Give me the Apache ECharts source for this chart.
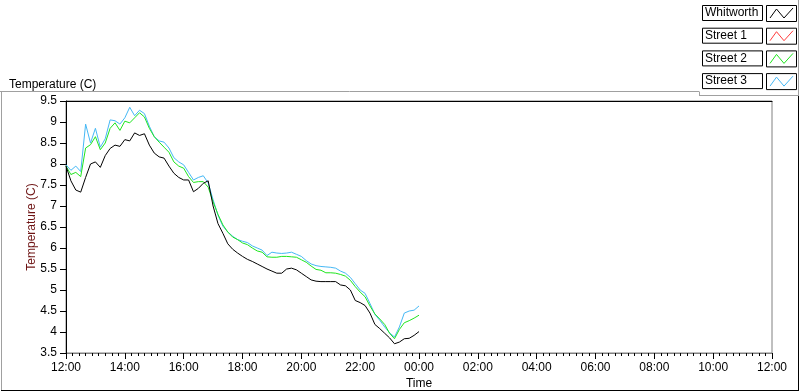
<!DOCTYPE html>
<html>
<head>
<meta charset="utf-8">
<script src="https://cdn.jsdelivr.net/npm/echarts@6/dist/echarts.min.js"></script>
<style>
  html, body { margin: 0; padding: 0; background: #fff; }
  #chart { width: 800px; height: 392px; }
</style>
</head>
<body>
<div id="chart"></div>
<script>
// Samples every 10 minutes starting at 12:00
const startHour = 12;
const stepMinutes = 10;

const seriesNames = ['Whitworth', 'Street 1', 'Street 2', 'Street 3'];
const seriesColors = ['#000000', '#ff3c3c', '#1ee61e', '#45b8f5'];

const whitworth = [
    7.95, 7.6, 7.38, 7.33, 7.68, 8.0, 8.05, 7.92, 8.2, 8.37, 8.45, 8.42,
    8.58, 8.55, 8.74, 8.68, 8.72, 8.45, 8.26, 8.17, 8.14, 7.95, 7.78, 7.68,
    7.62, 7.62, 7.34, 7.42, 7.54, 7.6, 7.0, 6.58, 6.35, 6.1, 5.97, 5.88,
    5.8, 5.73, 5.68, 5.62, 5.56, 5.5, 5.45, 5.4, 5.4, 5.5, 5.52, 5.48,
    5.4, 5.32, 5.24, 5.21, 5.2, 5.2, 5.2, 5.2, 5.12, 5.1, 5.0, 4.75,
    4.7, 4.63, 4.45, 4.18, 4.08, 3.97, 3.86, 3.72, 3.76, 3.84, 3.85, 3.92,
    4.01
];
const street1 = [];
const street2 = [
    7.95, 7.75, 7.8, 7.7, 8.38, 8.46, 8.65, 8.34, 8.5, 8.85, 8.98, 8.8,
    9.02, 8.98, 9.1, 9.22, 9.12, 8.85, 8.65, 8.52, 8.4, 8.28, 8.05, 7.95,
    7.9, 7.7, 7.56, 7.58, 7.58, 7.45, 7.1, 6.8, 6.55, 6.38, 6.26, 6.2,
    6.12, 6.08, 6.0, 5.93, 5.9, 5.79, 5.78, 5.78, 5.8, 5.8, 5.79, 5.78,
    5.72, 5.66, 5.57, 5.49, 5.47, 5.41, 5.41, 5.4, 5.37, 5.33, 5.23, 5.08,
    4.95, 4.84, 4.62, 4.43, 4.31, 4.18, 3.97, 3.84, 4.06, 4.22, 4.27, 4.33,
    4.4
];
const street3 = [
    7.98, 7.85, 7.95, 7.82, 8.95, 8.5, 8.85, 8.4, 8.6, 9.05, 9.03, 8.95,
    9.1, 9.35, 9.15, 9.28, 9.2, 8.9, 8.65, 8.55, 8.52, 8.38, 8.15, 8.05,
    7.98, 7.8, 7.62, 7.68, 7.72, 7.55, 7.15, 6.78, 6.52, 6.38, 6.28, 6.2,
    6.16, 6.13, 6.05, 6.0, 5.95, 5.82, 5.9, 5.88, 5.87, 5.88, 5.9, 5.85,
    5.8, 5.7, 5.62, 5.58, 5.56, 5.55, 5.54, 5.52, 5.45, 5.4, 5.3, 5.15,
    5.0, 4.92, 4.68, 4.42, 4.28, 4.12, 3.98, 3.88, 4.12, 4.45, 4.5, 4.52,
    4.62
];
const seriesValues = [whitworth, street1, street2, street3];

const chart = echarts.init(document.getElementById('chart'));

const toPoints = (values) => values.map((v, i) => [i * stepMinutes / 60, v]);

const pad = (n) => (n < 10 ? '0' : '') + n;

// legend drawn as LabVIEW-style boxes
const legendItems = [];
seriesNames.forEach((name, i) => {
    const top = 5 + i * 22.7;
    legendItems.push({
        type: 'rect', shape: { x: 702.5, y: top + 0.5, width: 60, height: 15 },
        style: { fill: '#fff', stroke: '#000', lineWidth: 1 }
    });
    legendItems.push({
        type: 'text', left: 705, top: top + 2,
        style: { text: name, fill: '#000', font: '12px "Liberation Sans", Arial, sans-serif' }
    });
    legendItems.push({
        type: 'rect', shape: { x: 766.5, y: top + 0.5, width: 30, height: 16 },
        style: { fill: '#fff', stroke: '#000', lineWidth: 1 }
    });
    legendItems.push({
        type: 'polyline',
        shape: { points: [[770, top + 13], [776.5, top + 4], [784, top + 13], [793, top + 3]] },
        style: { stroke: seriesColors[i], lineWidth: 1, fill: null }
    });
});

const frameLine = (x1, y1, x2, y2, color) => ({
    type: 'line', shape: { x1, y1, x2, y2 },
    style: { stroke: color, lineWidth: 1 }, silent: true
});

const option = {
    animation: false,
    backgroundColor: '#fff',
    textStyle: { fontFamily: '"Liberation Sans", Arial, sans-serif' },
    title: {
        text: 'Temperature (C)',
        left: 4,
        top: 74,
        textStyle: { fontSize: 12, fontWeight: 'normal', color: '#000' }
    },
    graphic: [
        frameLine(0, 91.5, 699, 91.5, '#a0a0a0'),
        frameLine(699.5, 91.5, 699.5, 96, '#a0a0a0'),
        frameLine(699, 95.5, 798, 95.5, '#a0a0a0'),
        frameLine(1.5, 91.5, 1.5, 390, '#a0a0a0'),
        frameLine(798.5, 0, 798.5, 96, '#a0a0a0'),
        frameLine(798.5, 96, 798.5, 391, '#000'),
        frameLine(1, 390.5, 799, 390.5, '#000')
    ].concat(legendItems),
    grid: {
        left: 66, right: 28, top: 101, bottom: 39,
        outerBoundsMode: 'none',
        show: true, borderColor: '#808080', borderWidth: 1, backgroundColor: '#fff'
    },
    xAxis: [{
        type: 'value',
        min: 0, max: 24, interval: 2,
        name: 'Time',
        nameLocation: 'middle',
        nameGap: 25,
        nameMoveOverlap: false,
        nameTextStyle: { fontSize: 12, color: '#000' },
        axisLine: { lineStyle: { color: '#808080', width: 1 } },
        axisTick: { length: 6, lineStyle: { color: '#000' } },
        minorTick: { show: true, splitNumber: 9, length: 3, lineStyle: { color: '#000' } },
        axisLabel: {
            fontSize: 12, color: '#000', margin: 9,
            formatter: (v) => pad((startHour + v) % 24) + ':00'
        },
        splitLine: { show: false }
    }, {
        type: 'value', position: 'top', min: 0, max: 24,
        axisLine: { lineStyle: { color: '#000', width: 1 } },
        axisTick: { show: false }, axisLabel: { show: false }, splitLine: { show: false }
    }],
    yAxis: {
        type: 'value',
        min: 3.5, max: 9.5, interval: 0.5,
        name: 'Temperature (C)',
        nameLocation: 'middle',
        nameGap: 28,
        nameMoveOverlap: false,
        nameTextStyle: { fontSize: 12, color: '#6e1414' },
        axisLine: { show: true, lineStyle: { color: '#000', width: 1 } },
        axisTick: { show: true, length: 6, lineStyle: { color: '#000' } },
        axisLabel: { fontSize: 12, color: '#000', margin: 9 },
        splitLine: { show: false }
    },
    series: seriesNames.map((name, i) => ({
        name,
        type: 'line',
        xAxisIndex: 0,
        data: toPoints(seriesValues[i]),
        showSymbol: false,
        z: 10 - i,
        lineStyle: { color: seriesColors[i], width: 1 },
        itemStyle: { color: seriesColors[i] }
    }))
};

chart.setOption(option);
</script>
</body>
</html>
